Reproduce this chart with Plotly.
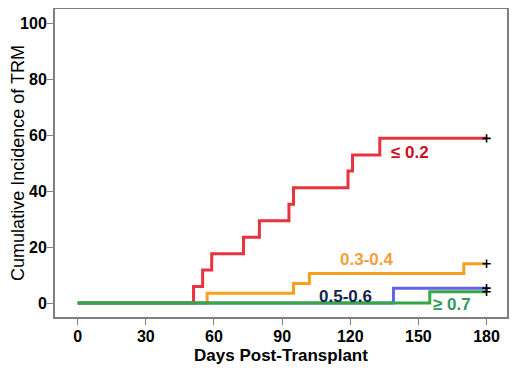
import plotly.graph_objects as go

# Data
red_days = [0, 51, 55, 59, 73, 80, 93, 95, 119, 121, 133, 180]
red_vals = [0, 5.9, 11.8, 17.6, 23.5, 29.4, 35.3, 41.2, 47.1, 52.9, 58.8, 58.8]
orange_days = [0, 57, 95, 102, 170, 180]
orange_vals = [0, 3.5, 7.0, 10.5, 14.0, 14.0]
blue_days = [0, 139, 180]
blue_vals = [0, 5.3, 5.3]
green_days = [0, 155, 180]
green_vals = [0, 4.0, 4.0]

group_labels = ["≤ 0.2", "0.3-0.4", "0.5-0.6", "≥ 0.7"]
label_x = [146.5, 127, 118, 165]
label_y = [53.8, 15.4, 2.5, -0.4]

x_ticks = [0, 30, 60, 90, 120, 150, 180]
y_ticks = [0, 20, 40, 60, 80, 100]

line_colors = ["#E8323E", "#F5A11E", "#6262E6", "#33A845"]
label_colors = ["#C8101E", "#F0A040", "#14244E", "#2E9A5C"]

FONT = "Liberation Sans, Arial, sans-serif"

fig = go.Figure()
series = [(red_days, red_vals), (orange_days, orange_vals),
          (blue_days, blue_vals), (green_days, green_vals)]
for (d, v), c in zip(series, line_colors):
    fig.add_trace(go.Scatter(x=d, y=v, mode="lines", line=dict(color=c, width=3, shape="hv"),
                             showlegend=False, hoverinfo="skip"))

# censor marks at the end of each curve
fig.add_trace(go.Scatter(
    x=[s[0][-1] for s in series], y=[s[1][-1] for s in series], mode="markers",
    marker=dict(symbol="cross-thin", size=6, line=dict(color="black", width=1.6)),
    showlegend=False, hoverinfo="skip"))

for t, x, y, c in zip(group_labels, label_x, label_y, label_colors):
    fig.add_annotation(x=x, y=y, text="<b>" + t + "</b>", showarrow=False,
                       font=dict(family=FONT, size=17, color=c))

fig.update_layout(
    width=512, height=382,
    margin=dict(l=47, r=13, t=1, b=73),
    paper_bgcolor="white", plot_bgcolor="white",
    font=dict(family=FONT, color="black"),
)
fig.update_xaxes(
    range=[-10, 189], tickvals=x_ticks, ticktext=["<b>%d</b>" % t for t in x_ticks],
    showgrid=False, zeroline=False, showline=True, mirror=True, automargin=False,
    linecolor="#7f7f7f", linewidth=2, ticks="outside", ticklen=6, tickcolor="#7f7f7f",
    ticklabelstandoff=-2,
    tickfont=dict(family=FONT, size=16, color="black"),
    title=dict(text="<b>Days Post-Transplant</b>", font=dict(family=FONT, size=17), standoff=5),
)
fig.update_yaxes(
    range=[-5, 105], tickvals=y_ticks, ticktext=["<b>%d</b>" % t for t in y_ticks],
    showgrid=False, zeroline=False, showline=True, mirror=True, automargin=False,
    linecolor="#7f7f7f", linewidth=2, ticks="outside", ticklen=6, tickcolor="#7f7f7f",
    ticklabelstandoff=-3,
    tickfont=dict(family=FONT, size=16, color="black"),
    title=dict(text="Cumulative Incidence of TRM", font=dict(family=FONT, size=18), standoff=11),
)

fig.write_html("out.html")
